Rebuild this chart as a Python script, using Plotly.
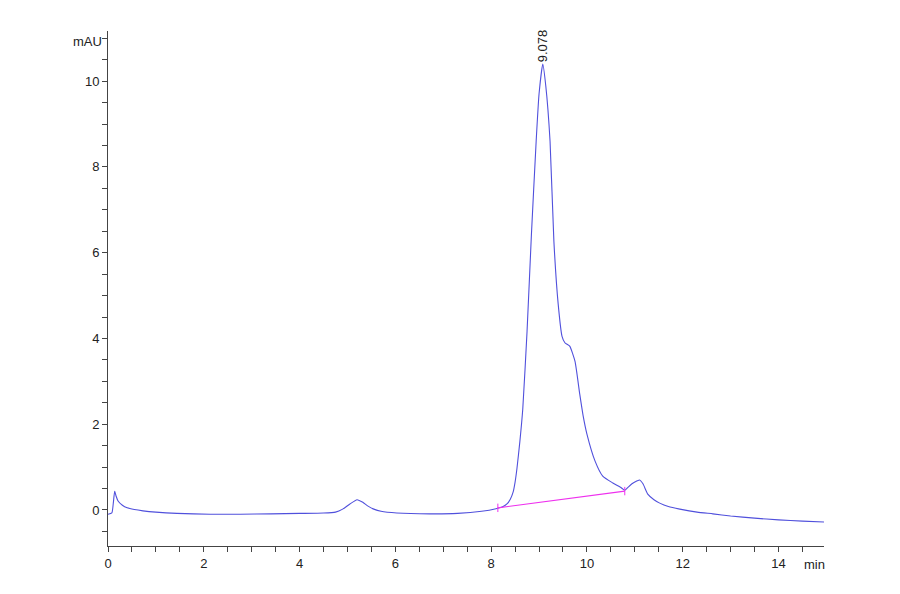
import plotly.graph_objects as go

# chromatogram signal
time_min = [0.00, 0.08, 0.11, 0.14, 0.17, 0.21, 0.30, 0.40, 0.55, 0.73,
            1.00, 1.44, 2.13, 2.76, 3.40, 4.00, 4.50, 4.75, 4.90, 5.05,
            5.20, 5.32, 5.43, 5.55, 5.70, 6.03, 6.72, 7.30, 7.80, 8.10,
            8.25, 8.33, 8.40, 8.46, 8.50, 8.54, 8.60, 8.66, 8.75, 8.84, 8.94,
            9.00, 9.078, 9.14, 9.23, 9.31, 9.40, 9.48, 9.54, 9.64, 9.75,
            9.85, 9.92, 10.00, 10.17, 10.33, 10.54, 10.70, 10.79, 10.85, 10.94,
            11.05, 11.10, 11.17, 11.27, 11.40, 11.52, 11.70, 11.94, 12.30, 12.63,
            13.00, 13.50, 14.00, 14.50, 14.95]
signal_mau = [-0.10, -0.07, 0.15, 0.44, 0.32, 0.21, 0.11, 0.05, 0.01, -0.02,
              -0.05, -0.08, -0.10, -0.10, -0.09, -0.08, -0.07, -0.05, 0.02, 0.14,
              0.24, 0.18, 0.09, 0.02, -0.03, -0.07, -0.09, -0.08, -0.03, 0.03,
              0.08, 0.14, 0.25, 0.42, 0.65, 0.98, 1.60, 2.35, 4.17, 6.40, 8.60,
              9.70, 10.40, 9.90, 8.60, 6.27, 4.80, 4.05, 3.90, 3.82, 3.47,
              2.70, 2.20, 1.77, 1.14, 0.79, 0.63, 0.53, 0.46, 0.52, 0.61,
              0.68, 0.70, 0.61, 0.37, 0.24, 0.16, 0.08, 0.02, -0.05, -0.09,
              -0.14, -0.19, -0.23, -0.26, -0.28]

# integration baseline of the main peak
base_t = [8.14, 10.79]
base_y = [0.05, 0.44]

peak_t = 9.078
peak_label = "9.078"

fig = go.Figure()

fig.add_trace(go.Scatter(x=time_min, y=signal_mau, mode='lines',
                         line=dict(color='#5050dc', width=1.1, shape='spline', smoothing=0.5),
                         showlegend=False, hoverinfo='skip'))

fig.add_trace(go.Scatter(x=base_t, y=base_y, mode='lines+markers',
                         line=dict(color='#ee30ee', width=1.1),
                         marker=dict(symbol='line-ns-open', size=6,
                                     line=dict(color='#999999', width=1)),
                         showlegend=False, hoverinfo='skip'))

fig.add_annotation(x=peak_t, y=max(signal_mau), text=peak_label, textangle=-90,
                   showarrow=False, xanchor='center', yanchor='bottom', yshift=0,
                   font=dict(size=13, color='#222222'))

fig.add_annotation(x=-0.028, y=0.98, xref='paper', yref='paper', text='mAU',
                   showarrow=False, xanchor='center', yanchor='middle',
                   font=dict(size=13, color='#222222'))
fig.add_annotation(x=0.987, y=-0.035, xref='paper', yref='paper', text='min',
                   showarrow=False, xanchor='center', yanchor='middle',
                   font=dict(size=13, color='#222222'))

axis_style = dict(showgrid=False, zeroline=False, showline=True,
                  linecolor='#444444', linewidth=1,
                  ticks='outside', ticklen=5, tickcolor='#444444',
                  tickfont=dict(size=13, color='#222222'))

fig.update_xaxes(range=[0, 14.95], tickmode='linear', tick0=0, dtick=2,
                 minor=dict(dtick=0.5, ticks='outside', ticklen=5, tickcolor='#444444'),
                 **axis_style)
fig.update_yaxes(range=[-0.84, 11.17], tickmode='linear', tick0=0, dtick=2,
                 minor=dict(dtick=0.5, ticks='outside', ticklen=5, tickcolor='#444444'),
                 **axis_style)

fig.update_layout(width=900, height=594,
                  margin=dict(l=100, r=84, t=23, b=56),
                  plot_bgcolor='white', paper_bgcolor='white',
                  font=dict(family='Liberation Sans, Arial, sans-serif'))

fig.write_html("out.html")
